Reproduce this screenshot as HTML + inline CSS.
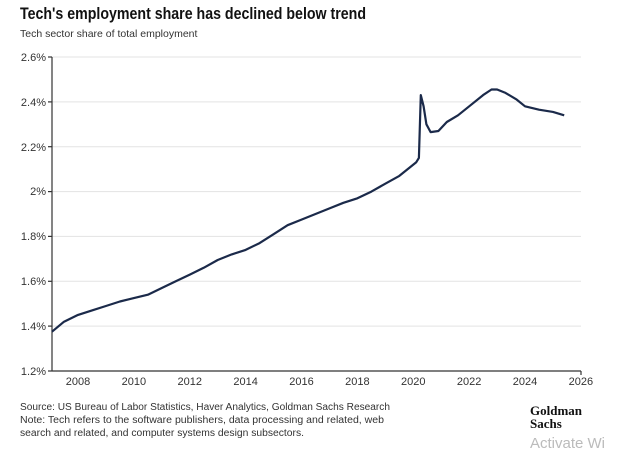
<!DOCTYPE html>
<html><head><meta charset="utf-8"><style>
body{margin:0;background:#fff;width:624px;height:457px;overflow:hidden;font-family:"Liberation Sans",sans-serif}
</style></head><body>
<svg width="624" height="457" xmlns="http://www.w3.org/2000/svg" font-family="Liberation Sans, sans-serif">
<text x="20" y="19" font-size="17" font-weight="bold" fill="#111" textLength="346" lengthAdjust="spacingAndGlyphs">Tech's employment share has declined below trend</text>
<text x="20" y="37" font-size="10.5" fill="#333">Tech sector share of total employment</text>
<g stroke="#e3e3e3" stroke-width="1">
<line x1="52" x2="581" y1="57" y2="57"/><line x1="52" x2="581" y1="101.9" y2="101.9"/>
<line x1="52" x2="581" y1="146.7" y2="146.7"/><line x1="52" x2="581" y1="191.6" y2="191.6"/>
<line x1="52" x2="581" y1="236.4" y2="236.4"/><line x1="52" x2="581" y1="281.3" y2="281.3"/>
<line x1="52" x2="581" y1="326.1" y2="326.1"/>
</g>
<g stroke="#333" stroke-width="1.2">
<line x1="52" y1="57" x2="52" y2="371"/><line x1="52" y1="371" x2="581" y2="371"/>
<line x1="48" y1="57" x2="52" y2="57"/><line x1="48" y1="101.9" x2="52" y2="101.9"/><line x1="48" y1="146.7" x2="52" y2="146.7"/><line x1="48" y1="191.6" x2="52" y2="191.6"/><line x1="48" y1="236.4" x2="52" y2="236.4"/><line x1="48" y1="281.3" x2="52" y2="281.3"/><line x1="48" y1="326.1" x2="52" y2="326.1"/><line x1="48" y1="371" x2="52" y2="371"/>
<line x1="581" y1="371" x2="581" y2="375"/>
</g>
<g font-size="11" fill="#333" text-anchor="end">
<text x="46" y="61">2.6%</text><text x="46" y="106">2.4%</text><text x="46" y="151">2.2%</text><text x="46" y="195">2%</text><text x="46" y="240">1.8%</text><text x="46" y="285">1.6%</text><text x="46" y="330">1.4%</text><text x="46" y="375">1.2%</text>
</g>
<g font-size="11" fill="#333" text-anchor="middle" id="xl"></g>
<path id="ln" fill="none" stroke="#1b2a4a" stroke-width="2.2" stroke-linejoin="round"/>
<text x="20" y="410" font-size="10" fill="#333" textLength="370" lengthAdjust="spacingAndGlyphs">Source: US Bureau of Labor Statistics, Haver Analytics, Goldman Sachs Research</text>
<text x="20" y="423" font-size="10" fill="#333" textLength="364" lengthAdjust="spacingAndGlyphs">Note: Tech refers to the software publishers, data processing and related, web</text>
<text x="20" y="436" font-size="10" fill="#333" textLength="284" lengthAdjust="spacingAndGlyphs">search and related, and computer systems design subsectors.</text>
<text x="530" y="415" font-size="13" font-weight="bold" fill="#111" font-family="Liberation Serif, serif">Goldman</text>
<text x="530" y="428" font-size="13" font-weight="bold" fill="#111" font-family="Liberation Serif, serif">Sachs</text>
<text x="530" y="448" font-size="15" fill="#bbb">Activate Wi</text>
</svg>
<script>
var X=function(y){return 78+(y-2008)*27.94},Y=function(v){return 371-(v-1.2)/0.2*44.86};
var d=[[2007.07,1.375],[2007.5,1.42],[2008,1.45],[2008.5,1.47],[2009,1.49],[2009.5,1.51],[2010,1.525],[2010.5,1.54],[2011,1.57],[2011.5,1.6],[2012,1.63],[2012.5,1.66],[2013,1.695],[2013.5,1.72],[2014,1.74],[2014.5,1.77],[2015,1.81],[2015.5,1.85],[2016,1.875],[2016.5,1.9],[2017,1.925],[2017.5,1.95],[2018,1.97],[2018.5,2.0],[2019,2.035],[2019.5,2.07],[2019.9,2.11],[2020.1,2.13],[2020.2,2.15],[2020.27,2.43],[2020.37,2.38],[2020.47,2.3],[2020.62,2.265],[2020.9,2.27],[2021.2,2.31],[2021.6,2.34],[2022,2.38],[2022.5,2.43],[2022.8,2.455],[2023.0,2.455],[2023.3,2.44],[2023.7,2.41],[2024,2.38],[2024.5,2.365],[2025,2.355],[2025.4,2.34]];
document.getElementById('ln').setAttribute('d',d.map(function(p,i){return (i?'L':'M')+X(p[0]).toFixed(1)+' '+Y(p[1]).toFixed(1)}).join(''));
var g=document.getElementById('xl'),s='';
for(var y=2008;y<=2026;y+=2)s+='<text x="'+X(y)+'" y="385">'+y+'</text>';
g.innerHTML=s;
</script>
</body></html>
